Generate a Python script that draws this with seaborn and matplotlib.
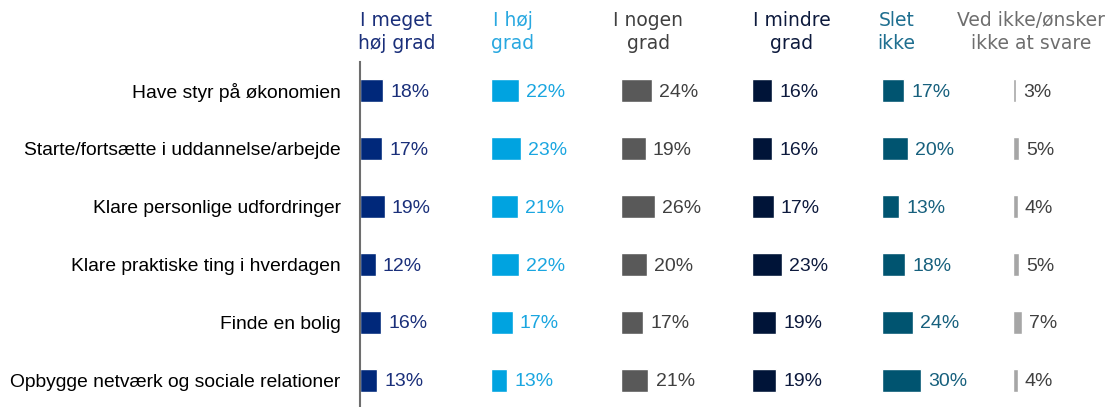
import pandas as pd
import matplotlib.pyplot as plt
import seaborn as sns

sns.set_theme(style="white")
plt.rcParams['font.family'] = ['Liberation Sans', 'DejaVu Sans']

# Data
items = ['Have styr på økonomien',
         'Starte/fortsætte i uddannelse/arbejde',
         'Klare personlige udfordringer',
         'Klare praktiske ting i hverdagen',
         'Finde en bolig',
         'Opbygge netværk og sociale relationer']
headers = ['I meget\nhøj grad', 'I høj\ngrad', 'I nogen\ngrad',
           'I mindre\ngrad', 'Slet\nikke', 'Ved ikke/ønsker\nikke at svare']
meget_hoej = [18, 17, 19, 12, 16, 13]
hoej = [22, 23, 21, 22, 17, 13]
nogen = [24, 19, 26, 20, 17, 21]
mindre = [16, 16, 17, 23, 19, 19]
slet_ikke = [17, 20, 13, 18, 24, 30]
ved_ikke = [3, 5, 4, 5, 7, 4]
series = [meget_hoej, hoej, nogen, mindre, slet_ikke, ved_ikke]

bar_colors = ['#00287a', '#00a3e0', '#595959', '#001438', '#005470', '#a6a6a6']
label_colors = ['#1a2f7a', '#1aa6e0', '#404040', '#0d1a3d', '#17607d', '#404040']
header_colors = ['#1a2f7a', '#29a8e0', '#404040', '#0d1a3d', '#1f6f90', '#6e6e6e']
header_x = [0.28, 0.17, 0.21, 0.31, 0.11, 0.14]

W, H = 1114, 407
fig = plt.figure(figsize=(W / 100, H / 100), dpi=100)

col_w = 130.5
for i, vals in enumerate(series):
    left = 360 + i * col_w
    ax = fig.add_axes([left / W, -2 / H, col_w / W, 347 / H])
    df = pd.DataFrame({'item': items, 'value': vals})
    sns.barplot(data=df, x='value', y='item', color=bar_colors[i],
                width=0.4, saturation=1, ax=ax)
    ax.set_xlim(0, 100)
    ax.set_ylim(5.5, -0.5)
    ax.set_xlabel('')
    ax.set_ylabel('')
    ax.set_xticks([])
    for s in ['top', 'right', 'bottom', 'left']:
        ax.spines[s].set_visible(False)
    if i == 0:
        ax.spines['left'].set_visible(True)
        ax.spines['left'].set_color('#6e6e6e')
        ax.spines['left'].set_linewidth(1.5)
        ax.tick_params(axis='y', length=0, pad=14, labelsize=13.9, labelcolor='#000000')
    else:
        ax.set_yticks([])
    for j, v in enumerate(vals):
        ax.text(v + 5.5, j + 0.03, f'{v}%', va='center', ha='left',
                fontsize=14, color=label_colors[i])
    fig.text((left + header_x[i] * col_w) / W, 1 - 32 / H, headers[i],
             ha='center', va='center', multialignment='center',
             fontsize=13.5, color=header_colors[i], linespacing=1.25,
             family=['DejaVu Sans'])

fig.savefig('out.png', dpi=100)
